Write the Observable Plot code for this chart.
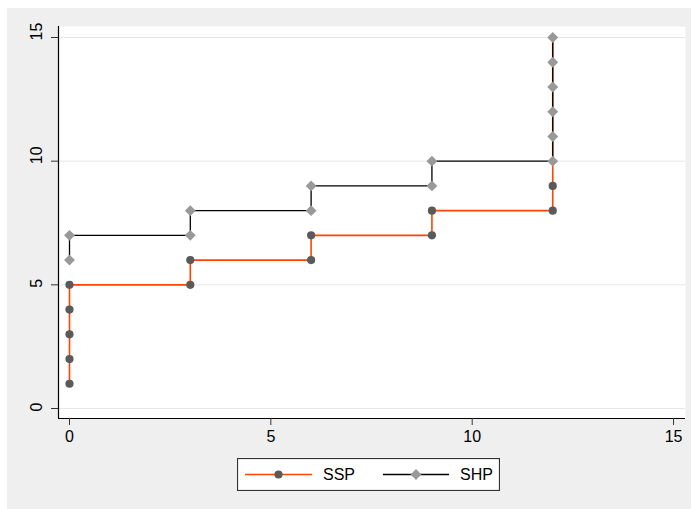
<!DOCTYPE html>
<html>
<head>
<meta charset="utf-8">
<script src="https://cdn.jsdelivr.net/npm/d3@7"></script>
<script src="https://cdn.jsdelivr.net/npm/@observablehq/plot@0.6"></script>
<style>
  html, body { margin: 0; padding: 0; background: #ffffff; }
  body { width: 691px; height: 509px; position: relative; overflow: hidden;
         font-family: "Liberation Sans", Arial, sans-serif; }
  #graph { position: absolute; left: 7px; top: 8px; width: 684px; height: 501px; background: #efefef; }
  #chart { position: absolute; left: 0; top: 0; }
  #legend { position: absolute; left: 230px; top: 450px; }
</style>
</head>
<body>
<div id="graph">
  <div id="chart"></div>
  <div id="legend"></div>
</div>
<script>
// Axis ticks
const xTicks = [0, 5, 10, 15];
const yTicks = [0, 5, 10, 15];
const xDomain = [-0.273, 15.297];
const yDomain = [-0.404, 15.445];

// Series: step paths traced point by point
const seriesNames = ["SSP", "SHP"];
const sspX = [0, 0, 0, 0, 0, 3, 3, 6, 6, 9, 9, 12, 12, 12, 12, 12, 12, 12, 12];
const sspY = [1, 2, 3, 4, 5, 5, 6, 6, 7, 7, 8, 8, 9, 10, 11, 12, 13, 14, 15];
const shpX = [0, 0, 3, 3, 6, 6, 9, 9, 12, 12, 12, 12, 12, 12];
const shpY = [6, 7, 7, 8, 8, 9, 9, 10, 10, 11, 12, 13, 14, 15];

const lineColors = ["#ff4500", "#000000"];
const markerColors = ["#5a5a5a", "#999999"];
const circleR = 4.1;
const diamondR = 4.9;

const ssp = sspX.map((x, i) => ({x, y: sspY[i]}));
const shp = shpX.map((x, i) => ({x, y: shpY[i]}));

// SSP markers sitting exactly under an SHP diamond are covered by it anyway
const shpKeys = new Set(shp.map(d => `${d.x},${d.y}`));
const sspVisible = ssp.filter(d => !shpKeys.has(`${d.x},${d.y}`));

const font = "'Liberation Sans', Arial, sans-serif";

const chart = Plot.plot({
  width: 684,
  height: 442,
  marginLeft: 51,
  marginRight: 6,
  marginTop: 18,
  marginBottom: 32,
  style: {background: "transparent", fontFamily: font, fontSize: "16px", color: "#000"},
  x: {domain: xDomain},
  y: {domain: yDomain},
  marks: [
    Plot.frame({fill: "#ffffff", stroke: "none"}),
    Plot.gridY(yTicks, {stroke: "#e6e6e6", strokeOpacity: 1, strokeWidth: 1}),
    Plot.ruleX([xDomain[0]], {stroke: "#000", strokeWidth: 1.2}),
    Plot.ruleY([yDomain[0]], {stroke: "#000", strokeWidth: 1.2}),
    Plot.axisX(xTicks, {tickSize: 7, tickPadding: 5, label: null, stroke: "#333", fontSize: 16}),
    Plot.axisY(yTicks, {tickSize: 7, label: null, stroke: "#333", tickFormat: () => ""}),
    Plot.text(yTicks, {y: d => d, text: d => String(d), frameAnchor: "left", rotate: -90,
                       dx: -22, dy: 3, fontSize: 16, fill: "#000"}),
    Plot.line(ssp, {x: "x", y: "y", stroke: lineColors[0], strokeWidth: 1.6}),
    Plot.dot(sspVisible, {x: "x", y: "y", r: circleR, fill: markerColors[0], stroke: "none"}),
    Plot.line(shp, {x: "x", y: "y", stroke: lineColors[1], strokeWidth: 1.3}),
    Plot.dot(shp, {x: "x", y: "y", r: diamondR, symbol: "diamond2", fill: markerColors[1], stroke: "none"})
  ]
});
document.getElementById("chart").appendChild(chart);

// Legend: line sample with marker, then the series name
const lw = 263, lh = 33;
const legend = d3.select("#legend").append("svg")
  .attr("width", lw).attr("height", lh)
  .style("font-family", font);
legend.append("rect")
  .attr("x", 0.5).attr("y", 0.5).attr("width", lw - 1).attr("height", lh - 1)
  .attr("fill", "#fff").attr("stroke", "#333").attr("stroke-width", 1.2);
const items = [
  {name: seriesNames[0], x0: 8, x1: 75, symbol: d3.symbolCircle, size: Math.PI * circleR * circleR},
  {name: seriesNames[1], x0: 146, x1: 212, symbol: d3.symbolDiamond2, size: Math.PI * diamondR * diamondR}
];
const cy = 16.5;
items.forEach((it, i) => {
  const g = legend.append("g");
  g.append("line").attr("x1", it.x0).attr("x2", it.x1).attr("y1", cy).attr("y2", cy)
    .attr("stroke", lineColors[i]).attr("stroke-width", i === 0 ? 1.6 : 1.3);
  g.append("path").attr("transform", `translate(${(it.x0 + it.x1) / 2},${cy})`)
    .attr("d", d3.symbol(it.symbol, it.size)()).attr("fill", markerColors[i]);
  g.append("text").attr("x", it.x1 + 11).attr("y", cy).attr("dy", "0.36em")
    .attr("font-size", 16).attr("fill", "#000").text(it.name);
});
</script>
</body>
</html>
